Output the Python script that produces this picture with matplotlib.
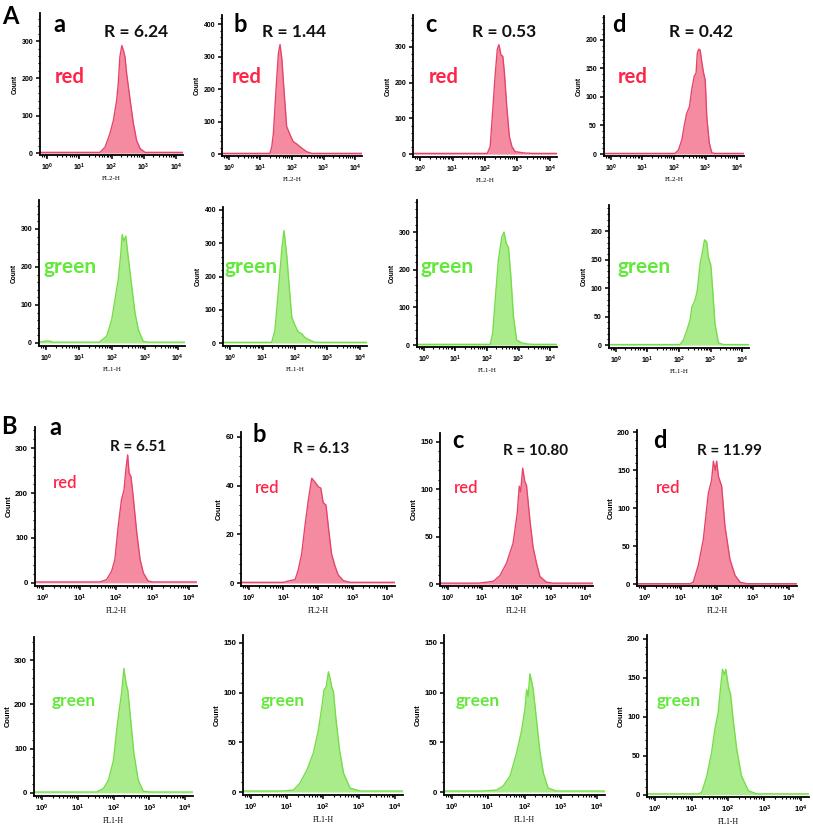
import matplotlib
matplotlib.use("Agg")
import matplotlib.pyplot as plt
from matplotlib.ticker import FixedLocator, LogLocator, AutoMinorLocator, NullFormatter
import numpy as np

plt.rcParams['font.family'] = ['Lato', 'DejaVu Sans']
plt.rcParams['mathtext.fontset'] = 'custom'
plt.rcParams['mathtext.bf'] = 'Liberation Sans:bold'
plt.rcParams['mathtext.rm'] = 'Liberation Sans'

W, H = 813, 836

# log10(FL intensity) vs cell count
Aa_red_x = [-0.2, 1.5, 1.64, 1.8, 1.95, 2.06, 2.16, 2.21, 2.26, 2.32, 2.37, 2.42, 2.47, 2.58, 2.68, 2.78, 2.89, 3.04, 4.2]
Aa_red_y = [2, 2, 2, 16, 52, 88, 141, 186, 257, 288, 275, 257, 213, 141, 79, 34, 12, 2, 2]
Aa_green_x = [-0.2, 0.0, 0.1, 0.2, 1.5, 1.61, 1.84, 1.99, 2.09, 2.19, 2.26, 2.31, 2.36, 2.42, 2.49, 2.60, 2.70, 2.80, 2.95, 3.10, 4.2]
Aa_green_y = [2, 5, 5, 2, 2, 2, 18, 61, 114, 167, 228, 285, 268, 281, 228, 149, 79, 35, 4, 2, 2]

Ab_red_x = [-0.2, 1.2, 1.30, 1.36, 1.41, 1.46, 1.52, 1.57, 1.62, 1.68, 1.73, 1.83, 1.94, 2.04, 2.15, 2.31, 2.47, 2.63, 4.2]
Ab_red_y = [2, 2, 2, 23, 64, 146, 239, 311, 337, 291, 218, 85, 59, 38, 31, 18, 7, 2, 2]
Ab_green_x = [-0.2, 1.2, 1.28, 1.38, 1.49, 1.59, 1.66, 1.75, 1.83, 1.90, 2.00, 2.10, 2.21, 2.31, 2.47, 2.62, 4.2]
Ab_green_y = [2, 2, 2, 38, 159, 279, 338, 259, 159, 78, 53, 33, 28, 16, 8, 2, 2]

Ac_red_x = [-0.2, 2.0, 2.07, 2.16, 2.24, 2.31, 2.38, 2.43, 2.49, 2.55, 2.60, 2.67, 2.75, 2.83, 2.93, 3.08, 3.24, 3.49, 4.2]
Ac_red_y = [2, 2, 2, 21, 124, 218, 293, 306, 278, 273, 226, 134, 50, 21, 7, 5, 3, 2, 2]
Ac_green_x = [-0.2, 2.0, 2.10, 2.18, 2.26, 2.36, 2.47, 2.54, 2.61, 2.68, 2.75, 2.84, 2.94, 3.10, 3.26, 3.47, 4.2]
Ac_green_y = [2, 2, 2, 31, 119, 225, 287, 300, 269, 260, 190, 75, 13, 6, 3, 2, 2]

Ad_red_x = [-0.2, 1.95, 2.03, 2.14, 2.25, 2.32, 2.40, 2.49, 2.56, 2.64, 2.70, 2.74, 2.79, 2.83, 2.88, 2.93, 2.99, 3.04, 3.12, 3.20, 3.30, 4.2]
Ad_red_y = [1, 1, 1, 7, 25, 48, 71, 83, 112, 136, 142, 177, 184, 182, 162, 144, 130, 65, 19, 2, 1, 1]
Ad_green_x = [-0.2, 1.95, 2.03, 2.14, 2.25, 2.35, 2.41, 2.51, 2.58, 2.67, 2.75, 2.81, 2.88, 2.93, 3.01, 3.07, 3.14, 3.25, 3.41, 4.2]
Ad_green_y = [1, 1, 1, 9, 26, 44, 67, 79, 96, 143, 166, 185, 181, 155, 140, 96, 38, 4, 1, 1]

Ba_red_x = [-0.2, 1.45, 1.56, 1.74, 1.88, 1.97, 2.06, 2.15, 2.22, 2.27, 2.32, 2.36, 2.41, 2.47, 2.57, 2.66, 2.75, 2.88, 3.02, 4.2]
Ba_red_y = [2, 2, 2, 7, 26, 52, 126, 185, 207, 252, 285, 244, 237, 193, 111, 52, 22, 4, 2, 2]
Ba_green_x = [-0.2, 1.45, 1.53, 1.72, 1.86, 2.00, 2.09, 2.16, 2.23, 2.29, 2.35, 2.40, 2.48, 2.57, 2.69, 2.83, 3.02, 4.2]
Ba_green_y = [2, 2, 2, 10, 29, 74, 142, 187, 228, 281, 247, 232, 164, 89, 29, 4, 2, 2]

Bb_red_x = [-0.2, 0.9, 1.00, 1.19, 1.34, 1.43, 1.53, 1.62, 1.72, 1.82, 1.91, 2.01, 2.08, 2.15, 2.23, 2.30, 2.39, 2.49, 2.58, 2.73, 2.92, 4.2]
Bb_red_y = [0.3, 0.3, 0.3, 1, 1.4, 5.4, 12, 23, 34, 43, 41.5, 39.5, 39, 33, 32, 23, 12, 7, 3.4, 1, 0.3, 0.3]
Bb_green_x = [-0.2, 0.44, 0.90, 1.18, 1.36, 1.55, 1.73, 1.87, 1.97, 2.03, 2.09, 2.15, 2.20, 2.24, 2.29, 2.36, 2.46, 2.57, 2.75, 3.03, 3.22, 4.2]
Bb_green_y = [1, 1, 1, 2, 9, 22, 39, 62, 86, 103, 106, 121, 114, 106, 101, 73, 42, 19, 4, 1, 1, 1]

Bc_red_x = [-0.2, 0.55, 0.89, 1.13, 1.33, 1.52, 1.71, 1.90, 2.02, 2.08, 2.12, 2.18, 2.24, 2.29, 2.39, 2.48, 2.58, 2.68, 2.87, 3.06, 4.2]
Bc_red_y = [1, 1, 1, 2, 3, 9, 22, 43, 74, 103, 97, 122, 108, 104, 67, 39, 22, 8, 2, 1, 1]
Bc_green_x = [-0.2, 0.86, 1.23, 1.41, 1.60, 1.78, 1.92, 2.01, 2.06, 2.10, 2.15, 2.20, 2.24, 2.33, 2.42, 2.52, 2.65, 2.88, 4.2]
Bc_green_y = [1, 1, 2, 6, 16, 39, 62, 83, 103, 96, 119, 111, 103, 73, 42, 19, 4, 1, 1]

Bd_red_x = [-0.2, 1.15, 1.25, 1.34, 1.48, 1.62, 1.76, 1.85, 1.90, 1.95, 1.99, 2.04, 2.13, 2.22, 2.36, 2.50, 2.64, 2.83, 4.2]
Bd_red_y = [1, 1, 1, 3, 25, 59, 120, 137, 162, 150, 162, 142, 129, 77, 33, 12, 3, 1, 1]
Bd_green_x = [-0.2, 1.1, 1.19, 1.28, 1.42, 1.55, 1.64, 1.73, 1.80, 1.85, 1.90, 1.94, 2.01, 2.07, 2.14, 2.24, 2.37, 2.56, 2.79, 4.2]
Bd_green_y = [1, 1, 1, 3, 24, 54, 84, 105, 139, 161, 154, 161, 139, 129, 97, 58, 24, 5, 1, 1]

R_A = ['R = 6.24', 'R = 1.44', 'R = 0.53', 'R = 0.42']
R_B = ['R = 6.51', 'R = 6.13', 'R = 10.80', 'R = 11.99']
letters = ['a', 'b', 'c', 'd']

RED_FILL, RED_EDGE, RED_TXT = '#f58ba1', '#e5456b', '#ff2448'
GRN_FILL, GRN_EDGE, GRN_TXT = '#aaec8c', '#76dd48', '#62e83a'

# panel boxes in pixels: left, top, right, bottom ; ylim ; ytick step/max ; tick font
panels = [
    (Aa_red_x, Aa_red_y, 'red', (40, 13, 183, 155), (-5, 375), 100, 300, 5.0),
    (Ab_red_x, Ab_red_y, 'red', (222, 15, 362, 156), (-6, 428), 100, 400, 5.0),
    (Ac_red_x, Ac_red_y, 'red', (413, 15, 557, 157), (-8, 389), 100, 300, 5.0),
    (Ad_red_x, Ad_red_y, 'red', (604, 16, 744, 156), (-3.5, 242), 50, 200, 5.0),
    (Aa_green_x, Aa_green_y, 'green', (39, 200, 185, 346), (-8, 376), 100, 300, 5.0),
    (Ab_green_x, Ab_green_y, 'green', (223, 207, 367, 346), (-9, 409), 100, 400, 5.0),
    (Ac_green_x, Ac_green_y, 'green', (417, 200, 557, 347), (-5, 385), 100, 300, 5.0),
    (Ad_green_x, Ad_green_y, 'green', (609, 205, 749, 348), (-5, 246), 50, 200, 5.0),
    (Ba_red_x, Ba_red_y, 'red', (35, 427, 197, 586), (-7, 347), 100, 300, 5.6),
    (Bb_red_x, Bb_red_y, 'red', (241, 432, 395, 586), (-1.2, 62), 20, 60, 5.6),
    (Bc_red_x, Bc_red_y, 'red', (440, 433, 593, 586), (-2, 159), 50, 150, 5.6),
    (Bd_red_x, Bd_red_y, 'red', (637, 430, 797, 586), (-2, 203), 50, 200, 5.6),
    (Ba_green_x, Ba_green_y, 'green', (34, 637, 193, 796), (-7, 352), 100, 300, 5.6),
    (Bb_green_x, Bb_green_y, 'green', (243, 635, 403, 795), (-3, 158), 50, 150, 5.6),
    (Bc_green_x, Bc_green_y, 'green', (444, 635, 605, 795), (-3, 158), 50, 150, 5.6),
    (Bd_green_x, Bd_green_y, 'green', (647, 635, 809, 797), (-3, 205), 50, 200, 5.6),
]


def fx(x):
    return x / W


def fy(y):
    return 1 - y / H


fig = plt.figure(figsize=(W / 100, H / 100), dpi=100)

for xs, ys, ch, (l, t, r, b), ylim, step, ymax, fs in panels:
    ax = fig.add_axes([l / W, 1 - b / H, (r - l) / W, (b - t) / H])
    xv = 10 ** np.array(xs)
    if ch == 'red':
        fc, ec, lab = RED_FILL, RED_EDGE, 'FL2-H'
    else:
        fc, ec, lab = GRN_FILL, GRN_EDGE, 'FL1-H'
    ax.fill_between(xv, ys, 0, color=fc, lw=0)
    ax.plot(xv, ys, color=ec, lw=1.0)
    ax.set_xscale('log')
    ax.set_xlim(10 ** -0.22, 10 ** 4.22)
    ax.set_ylim(*ylim)
    ax.xaxis.set_major_locator(FixedLocator([1, 10, 100, 1e3, 1e4]))
    ax.xaxis.set_minor_locator(LogLocator(base=10, subs=range(2, 10)))
    ax.xaxis.set_minor_formatter(NullFormatter())
    ax.set_xticklabels([r'$\mathbf{10^{%d}}$' % k for k in range(5)])
    ax.yaxis.set_major_locator(FixedLocator(list(range(0, ymax + 1, step))))
    ax.yaxis.set_minor_locator(AutoMinorLocator(5))
    for s in ['top', 'right']:
        ax.spines[s].set_visible(False)
    for s in ['left', 'bottom']:
        ax.spines[s].set_linewidth(1.3)
    ax.tick_params(which='major', direction='out', length=3, width=1.1, labelsize=fs, pad=2)
    ax.tick_params(which='minor', direction='out', length=1.6, width=0.8)
    for tl in ax.get_yticklabels():
        tl.set_fontweight('bold')
        tl.set_family('Liberation Sans')
    ax.set_xlabel(lab, fontsize=fs, family='Liberation Serif', labelpad=2)
    ax.set_ylabel('Count', fontsize=fs - 0.2, fontweight='bold', family='Liberation Sans', labelpad=2)
    ax.patch.set_alpha(0)

# section letters
fig.text(fx(2), fy(24), 'A', fontsize=17, fontweight='bold', ha='left', va='baseline')
fig.text(fx(1), fy(434), 'B', fontsize=17, fontweight='bold', ha='left', va='baseline')

# row A annotations
for i, (lx, rx, redx, grx) in enumerate([(53, 136, 55, 43), (233, 294, 232, 224),
                                         (425, 504, 429, 420), (612, 701, 618, 617)]):
    fig.text(fx(lx), fy(32), letters[i], fontsize=17, fontweight='bold', ha='left', va='baseline')
    fig.text(fx(rx), fy(37), R_A[i], fontsize=12.5, fontweight='bold', color='#111111',
             ha='center', va='baseline')
    fig.text(fx(redx), fy(83), 'red', fontsize=14.5, fontweight='bold', color=RED_TXT,
             ha='left', va='baseline')
    fig.text(fx(grx), fy(273), 'green', fontsize=15, fontweight='bold', color=GRN_TXT,
             ha='left', va='baseline')

# row B annotations
for i, (lx, ly, rx, ry, redx, redy, grx) in enumerate([(49, 435, 138, 451, 53, 488, 52),
                                                       (252, 442, 321, 453, 255, 493, 261),
                                                       (452, 448, 536, 455, 454, 493, 456),
                                                       (653, 448, 729, 455, 656, 493, 657)]):
    fig.text(fx(lx), fy(ly), letters[i], fontsize=17, fontweight='bold', ha='left', va='baseline')
    fig.text(fx(rx), fy(ry), R_B[i], fontsize=11, fontweight='bold', color='#111111',
             ha='center', va='baseline')
    fig.text(fx(redx), fy(redy), 'red', fontsize=12, fontweight='semibold', color=RED_TXT,
             ha='left', va='baseline')
    fig.text(fx(grx), fy(706), 'green', fontsize=12.5, fontweight='bold', color=GRN_TXT,
             ha='left', va='baseline')

fig.savefig('out.png', dpi=100)
